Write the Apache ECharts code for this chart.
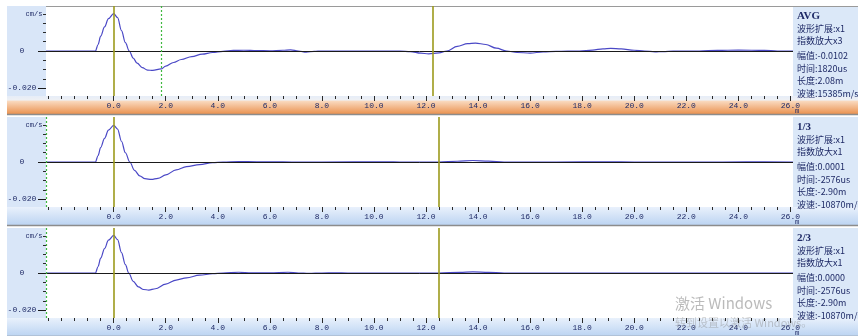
<!DOCTYPE html>
<html>
<head>
<meta charset="utf-8">
<script src="https://cdn.jsdelivr.net/npm/echarts@6/dist/echarts.min.js"></script>
<style>
html,body{margin:0;padding:0;background:#fff;}
#c{width:858px;height:336px;}
</style>
</head>
<body>
<div id="c"></div>
<script>
// Velocity traces: [distance (m), velocity (cm/s)]
const traceAvg = [
  [-2.6,0],[-0.7,0],[-0.6,0.0035],[-0.5,0.0080],[-0.35,0.0130],[-0.2,0.0175],[0,0.0202],
  [0.15,0.0180],[0.3,0.0110],[0.45,0.0045],[0.6,0],[0.75,-0.0038],[0.9,-0.0066],[1.1,-0.0090],
  [1.3,-0.0103],[1.5,-0.0105],[1.82,-0.0097],[2.0,-0.0082],[2.3,-0.0062],[2.6,-0.0046],
  [3.0,-0.0030],[3.4,-0.0017],[3.8,-0.0008],[4.2,-0.0002],[4.6,0.0003],[5.0,0.0004],
  [5.5,0.0002],[6.0,0.0001],[6.5,0.0004],[6.8,0.0006],[7.1,0.0000],[7.4,-0.0006],[7.7,-0.0002],
  [8.0,0],[10.0,0],[11.0,0],[11.4,-0.0003],[11.8,-0.0012],[12.1,-0.0015],[12.5,-0.0010],
  [12.8,0.0000],[13.2,0.0025],[13.6,0.0040],[13.9,0.0043],[14.3,0.0035],[14.7,0.0015],
  [15.1,0.0000],[15.5,-0.0008],[16.0,-0.0011],[16.5,-0.0005],[17.0,-0.0002],[17.9,0],
  [18.4,0.0005],[18.8,0.0012],[19.1,0.0014],[19.5,0.0011],[20.0,0.0004],[20.4,0],
  [20.8,-0.0005],[21.1,-0.0003],[21.5,0],[22.5,0],[23.2,0.0003],[24.0,0.0005],[25.0,0.0003],
  [25.5,0],[26.1,0]
];
const trace13 = [
  [-2.6,0],[-0.7,0],[-0.6,0.0035],[-0.5,0.0078],[-0.35,0.0128],[-0.2,0.0172],[0,0.0198],
  [0.15,0.0178],[0.3,0.0112],[0.45,0.0050],[0.62,0],[0.8,-0.0045],[1.0,-0.0075],[1.2,-0.0090],
  [1.45,-0.0094],[1.7,-0.0088],[2.0,-0.0070],[2.4,-0.0042],[2.8,-0.0025],[3.3,-0.0014],
  [3.8,-0.0004],[4.2,0],[4.8,0.0002],[5.5,0.0001],[6.5,0.0001],[7.2,-0.0001],[8.0,0],
  [10.5,0.0001],[11.0,0],[12.0,-0.0001],[12.5,0],[13.2,0.0004],[13.8,0.0008],[14.4,0.0005],
  [15.0,0],[16.0,-0.0001],[17.0,0],[19.0,0.0001],[20.0,0],[22.5,-0.0001],[24.3,0.0001],[26.1,0]
];
const trace23 = [
  [-2.6,0],[-0.7,0],[-0.6,0.0035],[-0.5,0.0080],[-0.35,0.0132],[-0.2,0.0177],[0,0.0203],
  [0.15,0.0180],[0.3,0.0110],[0.45,0.0045],[0.58,0],[0.75,-0.0045],[0.95,-0.0075],[1.15,-0.0089],
  [1.35,-0.0092],[1.6,-0.0085],[2.0,-0.0060],[2.4,-0.0038],[2.8,-0.0026],[3.3,-0.0012],
  [3.8,-0.0004],[4.2,0],[4.8,0.0004],[5.3,0.0001],[6.0,0.0001],[6.7,0.0004],[7.1,0],
  [7.5,-0.0002],[8.0,0],[8.5,0.0001],[9.0,0],[11.5,-0.0001],[12.5,0],[13.3,0.0003],
  [13.8,0.0006],[14.4,0.0003],[15.0,0],[26.1,0]
];

// Panel annotations
const traceNames   = ['AVG', '1/3', '2/3'];
const waveExpand   = ['x1', 'x1', 'x1'];
const expAmplify   = ['x3', 'x1', 'x1'];
const amplitudes   = ['-0.0102', '0.0001', '0.0000'];
const times        = ['1820us', '-2576us', '-2576us'];
const lengths      = ['2.08m', '-2.90m', '-2.90m'];
const speeds       = ['15385m/s', '-10870m/s', '-10870m/s'];

// Cursor positions (m)
const cursorZero = [0.0, 0.0, 0.0];
const cursorA    = [1.82, -2.6, -2.6];
const cursorB    = [12.25, 12.48, 12.48];

// Axis ticks and labels
const xTickValues = [0, 2, 4, 6, 8, 10, 12, 14, 16, 18, 20, 22, 24, 26];
const yTickValues = [0.02, 0, -0.02];
const yTickLabels = ['cm/s', '0', '-0.020'];

const traces = [traceAvg, trace13, trace23];

const X_MIN = -2.6, X_MAX = 26.1, Y_LIM = 0.0243;
const PANEL_STEP = 111;
const minorX = [];
for (let v = -2.5; v <= 26.001; v += 0.5) minorX.push(+v.toFixed(1));
const minorY = [];
for (let v = -0.02; v <= 0.02001; v += 0.005) minorY.push(+v.toFixed(3));

const ink = '#1f2a66';
const mono = '"Liberation Mono","DejaVu Sans Mono",monospace';
const cjk = '"Noto Sans CJK SC","Noto Sans",sans-serif';
const hiddenLine = {show:false, onZero:false};

const grids = [], xAxes = [], yAxes = [], series = [], graphics = [];

graphics.push({type:'rect', shape:{x:0,y:0,width:858,height:336}, style:{fill:'#ffffff'}, z:-20, silent:true});

for (let i = 0; i < 3; i++) {
  const oy = PANEL_STEP * i;
  grids.push({left:46, right:65, top:6 + oy, height:90});

  // panel backgrounds
  graphics.push({type:'rect', shape:{x:7,y:6+oy,width:39,height:90}, style:{fill:'#d9e6f8'}, z:-10, silent:true});
  graphics.push({type:'rect', shape:{x:793,y:6+oy,width:65,height:90}, style:{fill:'#dbe8f8'}, z:-10, silent:true});
  const bandFill = i === 0
    ? new echarts.graphic.LinearGradient(0,0,0,1,[
        {offset:0, color:'#e6edf8'},{offset:0.22, color:'#eef0f4'},
        {offset:0.3, color:'#f9d8bc'},{offset:1, color:'#ea9250'}])
    : new echarts.graphic.LinearGradient(0,0,0,1,[
        {offset:0, color:'#e9f1fc'},{offset:1, color:'#bcd4f2'}]);
  graphics.push({type:'rect', shape:{x:7,y:96+oy,width:851,height:18}, style:{fill:bandFill}, z:-10, silent:true});
  graphics.push({type:'line', shape:{x1:7,y1:114.5+oy,x2:858,y2:114.5+oy}, style:{stroke:'#8c8c8c', lineWidth:1.5}, z:-5, silent:true});
  if (i === 0) {
    graphics.push({type:'line', shape:{x1:46,y1:6.5,x2:858,y2:6.5}, style:{stroke:'#9a9a9a', lineWidth:1}, z:-5, silent:true});
  }

  // minor ticks
  xAxes.push({
    gridIndex:i, type:'value', position:'bottom', offset:0, min:X_MIN, max:X_MAX,
    axisLine:hiddenLine, splitLine:{show:false},
    axisTick:{show:true, customValues:minorX, length:3, lineStyle:{color:'#2a2a2a', width:1}},
    axisLabel:{show:false}
  });
  // major ticks with labels
  xAxes.push({
    gridIndex:i, type:'value', position:'bottom', offset:0, min:X_MIN, max:X_MAX,
    axisLine:hiddenLine, splitLine:{show:false},
    axisTick:{show:true, customValues:xTickValues, length:5, lineStyle:{color:'#2a2a2a', width:1}},
    axisLabel:{show:true, customValues:xTickValues, formatter:v => v.toFixed(1),
      fontSize:8, fontFamily:mono, color:ink, margin:6}
  });
  yAxes.push({
    gridIndex:i, type:'value', position:'left', offset:0, min:-Y_LIM, max:Y_LIM,
    axisLine:hiddenLine, splitLine:{show:false},
    axisTick:{show:true, customValues:minorY, length:3, lineStyle:{color:'#2a2a2a', width:1}},
    axisLabel:{show:false}
  });
  yAxes.push({
    gridIndex:i, type:'value', position:'left', offset:0, min:-Y_LIM, max:Y_LIM,
    axisLine:hiddenLine, splitLine:{show:false},
    axisTick:{show:true, customValues:[0, -0.02], length:8, lineStyle:{color:'#1a1a1a', width:1}},
    axisLabel:{show:true, customValues:yTickValues, align:'center', margin:24,
      fontSize:8, fontFamily:mono, color:ink,
      formatter:v => {
        const k = yTickValues.findIndex(t => Math.abs(t - v) < 1e-9);
        if (k < 0) return '';
        return k === 0 ? '{u|' + yTickLabels[k] + '}' : yTickLabels[k];
      },
      rich:{u:{fontSize:7, fontFamily:mono, color:ink, padding:[0,0,0,24]}}
    }
  });

  // cursor and baseline layer
  series.push({
    type:'line', xAxisIndex:2*i, yAxisIndex:2*i, data:[[X_MIN,0]],
    showSymbol:false, lineStyle:{opacity:0}, silent:true, z:1,
    markLine:{
      silent:true, symbol:'none', label:{show:false}, animation:false,
      data:[
        {yAxis:0, lineStyle:{color:'#1a1a1a', width:1, type:'solid'}},
        {xAxis:cursorA[i], lineStyle:{color:'#3fb83f', width:1.2, type:[2,2]}},
        {xAxis:cursorZero[i], lineStyle:{color:'#9c9a1c', width:1.6, type:'solid'}},
        {xAxis:cursorB[i], lineStyle:{color:'#9c9a1c', width:1.6, type:'solid'}}
      ]
    }
  });
  // waveform
  series.push({
    type:'line', name:traceNames[i], xAxisIndex:2*i, yAxisIndex:2*i,
    data:traces[i], showSymbol:false, smooth:0.35, smoothMonotone:'x',
    lineStyle:{color:'#4a48c6', width:1.2}, z:3
  });

  // info panel text
  const tx = 797;
  graphics.push({type:'text', left:tx, top:11+oy, z:10, silent:true,
    style:{text:traceNames[i], font:'bold 11px "Liberation Serif","DejaVu Serif",serif', fill:ink}});
  const lines = [
    ['波形扩展:' + waveExpand[i], 24],
    ['指数放大' + expAmplify[i], 36.5],
    ['幅值:' + amplitudes[i], 51.5],
    ['时间:' + times[i], 64],
    ['长度:' + lengths[i], 76.5],
    ['波速:' + speeds[i], 89]
  ];
  lines.forEach(([t, y]) => {
    graphics.push({type:'text', left:tx, top:y+oy, z:10, silent:true,
      style:{text:t, font:'9px ' + cjk, fill:ink}});
  });
  graphics.push({type:'text', left:795, top:108+oy, z:10, silent:true,
    style:{text:'m', font:'7px ' + mono, fill:ink}});
}

// desktop watermark
graphics.push({type:'text', left:675, top:296, z:20, silent:true,
  style:{text:'激活 Windows', font:'15px ' + cjk, fill:'rgba(130,130,130,0.55)'}});
graphics.push({type:'text', left:675, top:317, z:20, silent:true,
  style:{text:'转到设置以激活 Windows。', font:'11px ' + cjk, fill:'rgba(130,130,130,0.4)'}});

const chart = echarts.init(document.getElementById('c'), null, {renderer:'canvas'});
chart.setOption({
  animation:false,
  backgroundColor:'#ffffff',
  grid:grids,
  xAxis:xAxes,
  yAxis:yAxes,
  series:series,
  graphic:graphics
});
</script>
</body>
</html>
